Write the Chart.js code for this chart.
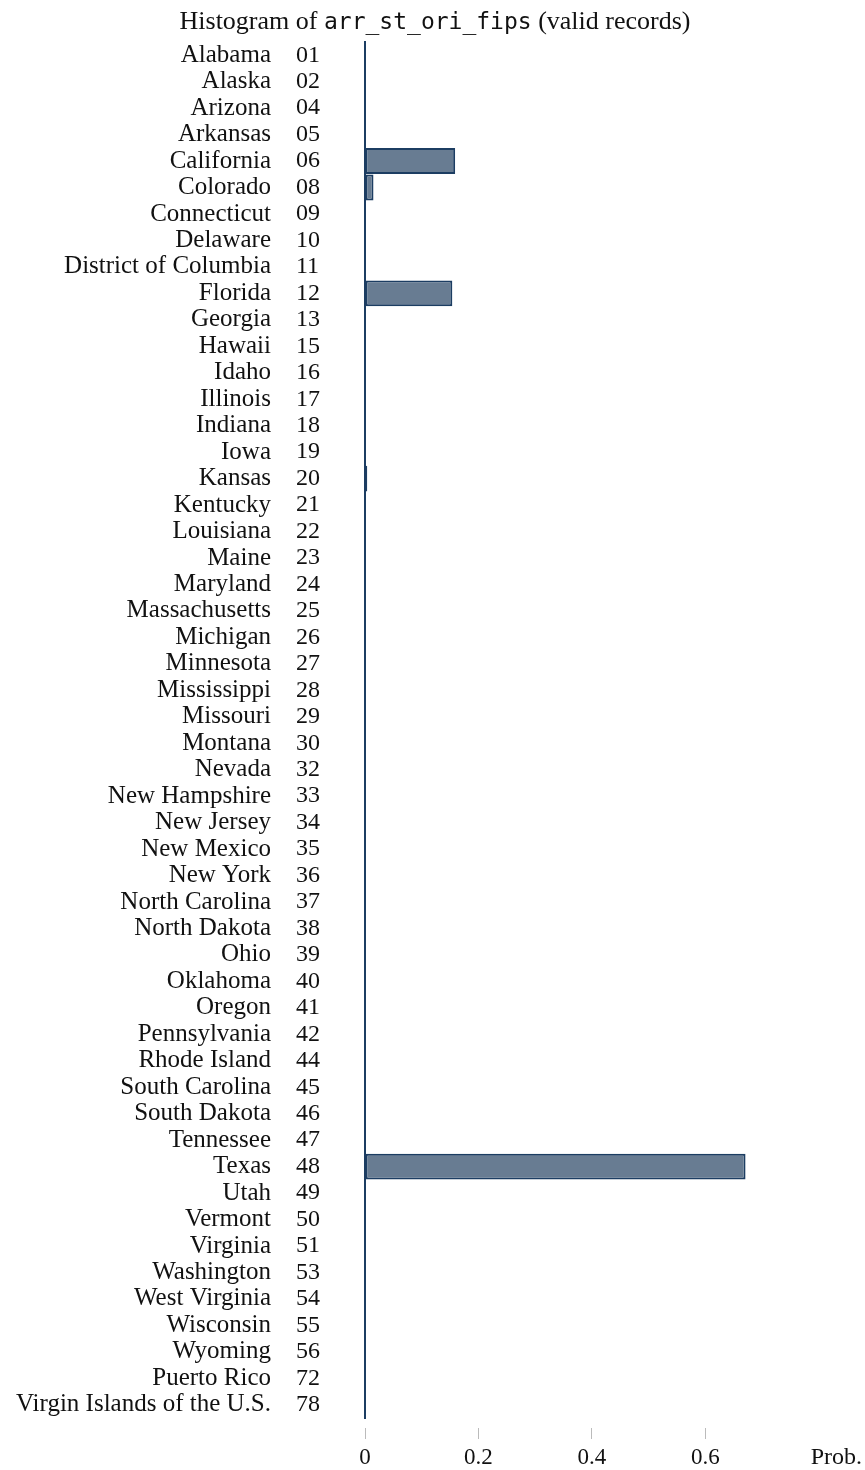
<!DOCTYPE html>
<html>
<head>
<meta charset="utf-8">
<script src="https://cdn.jsdelivr.net/npm/chart.js@4"></script>
<style>
  html, body { margin: 0; padding: 0; background: #fff; }
  #wrap { width: 865px; height: 1470px; }
</style>
</head>
<body>
<div id="wrap"><canvas id="chart" width="865" height="1470"></canvas></div>
<script>
const stateNames = ['Alabama', 'Alaska', 'Arizona', 'Arkansas', 'California', 'Colorado', 'Connecticut', 'Delaware',
    'District of Columbia', 'Florida', 'Georgia', 'Hawaii', 'Idaho', 'Illinois', 'Indiana', 'Iowa', 'Kansas',
    'Kentucky', 'Louisiana', 'Maine', 'Maryland', 'Massachusetts', 'Michigan', 'Minnesota', 'Mississippi',
    'Missouri', 'Montana', 'Nevada', 'New Hampshire', 'New Jersey', 'New Mexico', 'New York', 'North Carolina',
    'North Dakota', 'Ohio', 'Oklahoma', 'Oregon', 'Pennsylvania', 'Rhode Island', 'South Carolina',
    'South Dakota', 'Tennessee', 'Texas', 'Utah', 'Vermont', 'Virginia', 'Washington', 'West Virginia',
    'Wisconsin', 'Wyoming', 'Puerto Rico', 'Virgin Islands of the U.S.'];
const fipsCodes = ['01', '02', '04', '05', '06', '08', '09', '10', '11', '12', '13', '15', '16', '17', '18', '19',
    '20', '21', '22', '23', '24', '25', '26', '27', '28', '29', '30', '32', '33', '34', '35', '36', '37', '38',
    '39', '40', '41', '42', '44', '45', '46', '47', '48', '49', '50', '51', '53', '54', '55', '56', '72', '78'];
const probs = [0, 0, 0, 0, 0.159, 0.015, 0, 0, 0, 0.154, 0, 0, 0, 0, 0, 0, 0.004, 0, 0, 0, 0, 0, 0, 0, 0, 0,
    0, 0, 0, 0, 0, 0, 0, 0, 0, 0, 0, 0, 0, 0, 0, 0.001, 0.671, 0, 0, 0, 0, 0, 0, 0, 0, 0];
const xTicks = [0, 0.2, 0.4, 0.6];

const serif = '"Liberation Serif", "DejaVu Serif", serif';
const mono = '"DejaVu Sans Mono", "Liberation Mono", monospace';
const navy = 'rgb(28, 61, 98)';

// title with a monospace variable name in the middle, plus the "Prob." label
const extraText = {
    id: 'extraText',
    afterDraw(chart) {
        const ctx = chart.ctx;
        const parts = [
            ['Histogram of ', '26px ' + serif],
            ['arr_st_ori_fips', '23px ' + mono],
            [' (valid records)', '26px ' + serif]
        ];
        ctx.save();
        ctx.fillStyle = '#111';
        ctx.textBaseline = 'alphabetic';
        var total = 0;
        parts.forEach(p => { ctx.font = p[1]; total += ctx.measureText(p[0]).width; });
        var x = 435 - total / 2;
        parts.forEach(p => {
            ctx.font = p[1];
            ctx.textAlign = 'left';
            ctx.fillText(p[0], x, 29);
            x += ctx.measureText(p[0]).width;
        });
        var xs = chart.scales.x;
        ctx.font = '24px ' + serif;
        ctx.textAlign = 'right';
        ctx.textBaseline = 'middle';
        ctx.fillText('Prob.', 862, xs.top + 40);
        ctx.restore();
    }
};

new Chart(document.getElementById('chart'), {
    type: 'bar',
    data: {
        labels: fipsCodes,
        datasets: [{
            label: 'Prob.',
            data: probs,
            backgroundColor: 'rgb(104, 124, 146)',
            borderColor: navy,
            borderWidth: 2,
            borderSkipped: false,
            barPercentage: 1,
            categoryPercentage: 0.98,
            yAxisID: 'y'
        }]
    },
    options: {
        indexAxis: 'y',
        responsive: false,
        animation: false,
        layout: { padding: { top: 42, right: 103, left: 0, bottom: 0 } },
        plugins: {
            legend: { display: false },
            title: { display: false },
            tooltip: { enabled: false }
        },
        scales: {
            x: {
                type: 'linear',
                min: 0,
                max: 0.7,
                afterBuildTicks: (s) => { s.ticks = xTicks.map(v => ({ value: v })); },
                afterFit: (s) => { s.height = 52; },
                border: { display: false },
                grid: {
                    drawOnChartArea: false,
                    drawTicks: true,
                    tickLength: 21,
                    tickBorderDash: [0, 10, 11, 100],
                    color: '#bbb',
                    lineWidth: 1
                },
                ticks: {
                    color: '#111',
                    padding: 5,
                    maxRotation: 0,
                    font: { family: serif, size: 23 },
                    callback: (v) => String(v)
                }
            },
            y: {
                type: 'category',
                weight: 0,
                offset: true,
                afterFit: (s) => { s.width = 69; },
                border: { display: true, color: navy, width: 2 },
                grid: { display: false, drawTicks: false },
                ticks: {
                    crossAlign: 'far',
                    padding: 0,
                    color: '#111',
                    autoSkip: false,
                    font: { family: serif, size: 24 }
                }
            },
            y2: {
                type: 'category',
                position: 'left',
                labels: stateNames,
                weight: 1,
                offset: true,
                afterFit: (s) => { s.width = 296; },
                border: { display: false },
                grid: { display: false, drawTicks: false },
                ticks: {
                    crossAlign: 'near',
                    padding: 25,
                    color: '#111',
                    autoSkip: false,
                    font: { family: serif, size: 25 }
                }
            }
        }
    },
    plugins: [extraText]
});
</script>
</body>
</html>
